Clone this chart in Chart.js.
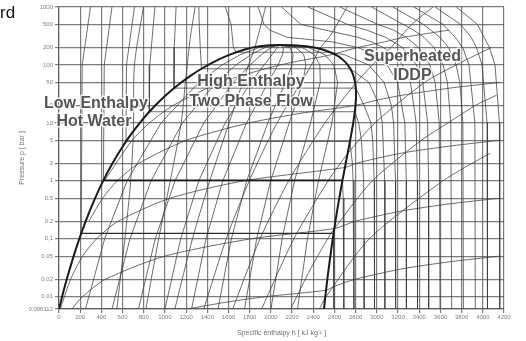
<!DOCTYPE html>
<html>
<head>
<meta charset="utf-8">
<script src="https://cdn.jsdelivr.net/npm/chart.js@4.4.1/dist/chart.umd.min.js"></script>
<style>
  html, body { margin: 0; padding: 0; background: #fff; }
  #wrap { position: relative; width: 526px; height: 341px; }
</style>
</head>
<body>
<div id="wrap"><canvas id="phChart" width="526" height="341"></canvas></div>
<script>
// p-h diagram of water: enthalpy h in kJ/kg, pressure p in bar

var pressureTicks = [0.006112, 0.01, 0.02, 0.05, 0.1, 0.2, 0.5, 1, 2, 5, 10, 20, 50, 100, 200, 500, 1000];
var pressureLabels = ['0.006112', '0.01', '0.02', '0.05', '0,1', '0.2', '0.5', '1', '2', '5', '10', '20', '50', '100', '200', '500', '1000'];
var enthalpyTicks = [0, 200, 400, 600, 800, 1000, 1200, 1400, 1600, 1800, 2000, 2200, 2400, 2600, 2800, 3000, 3200, 3400, 3600, 3800, 4000, 4200];

// saturation line
var satPressure = [0.006112, 0.01228, 0.02339, 0.07384, 0.1995, 0.4739, 1.0142, 1.9867, 3.6154, 6.1823, 10.028, 15.549, 23.196, 33.469, 46.923, 64.166, 85.879, 112.84, 145.94, 186.51, 210.43, 220.64];
var satLiquidH = [0, 42.0, 83.9, 167.5, 251.2, 335.0, 419.2, 503.8, 589.2, 675.7, 763.2, 852.3, 943.6, 1037.6, 1135.0, 1236.9, 1345.0, 1462.2, 1594.5, 1761.5, 1892.6, 2084.3];
var satVaporH = [2500.9, 2519.2, 2537.4, 2573.5, 2608.8, 2643.0, 2675.6, 2705.9, 2733.4, 2757.4, 2777.2, 2792.0, 2801.0, 2803.0, 2796.6, 2779.9, 2749.6, 2700.6, 2622.3, 2481.5, 2333.5, 2084.3];

// lines of constant vapour quality
var qualityPressure = [0.006112, 0.1, 1, 10, 50, 100, 150, 200, 220.64];
var quality10 = [250, 431, 643, 964, 1319, 1540, 1710, 1885, 2084];
var quality20 = [500, 670, 869, 1165, 1482, 1671, 1810, 1944, 2084];
var quality30 = [750, 909, 1095, 1367, 1646, 1803, 1910, 2002, 2084];
var quality40 = [1000, 1149, 1320, 1568, 1810, 1935, 2010, 2061, 2084];
var quality50 = [1251, 1388, 1546, 1770, 1974, 2067, 2110, 2119, 2084];
var quality60 = [1501, 1627, 1772, 1971, 2138, 2198, 2210, 2177, 2084];
var quality70 = [1751, 1866, 1998, 2173, 2302, 2330, 2310, 2236, 2084];
var quality80 = [2001, 2106, 2223, 2374, 2466, 2462, 2410, 2294, 2084];
var quality90 = [2251, 2345, 2449, 2576, 2630, 2593, 2510, 2353, 2084];

// isotherms [h, p]
var isotherm50 = [[297, 1000], [219, 100], [209.3, 0.1235], [2591.3, 0.1235], [2594, 0.006112]];
var isotherm100 = [[500, 1000], [427, 100], [419.2, 1.0142], [2675.6, 1.0142], [2682, 0.5], [2688, 0.1], [2689, 0.006112]];
var isotherm150 = [[712, 1000], [637, 100], [632.2, 4.76], [2745.9, 4.76], [2769, 2], [2776, 1], [2783, 0.1], [2784, 0.006112]];
var isotherm200 = [[905, 1000], [857, 100], [852.3, 15.55], [2792, 15.55], [2828, 10], [2855, 5], [2875, 1], [2879, 0.1], [2880, 0.006112]];
var isotherm250 = [[1105, 1000], [1088, 200], [1085.8, 39.76], [2800.9, 39.76], [2880, 20], [2943, 10], [2961, 5], [2975, 1], [2978, 0.006112]];
var isotherm300 = [[1320, 1000], [1323, 500], [1333, 200], [1345, 85.88], [2749.6, 85.88], [2925, 50], [3024, 20], [3051, 10], [3074, 1], [3076, 0.006112]];
var isotherm350 = [[1570, 1000], [1624, 500], [1646, 200], [1671.9, 165.3], [2563.6, 165.3], [2692, 150], [2923, 100], [3068, 50], [3137, 20], [3158, 10], [3176, 1], [3177, 0.006112]];
var isotherm400 = [[1880, 1000], [1935, 500], [1988, 400], [2152, 300], [2578, 250], [2819, 200], [2975, 150], [3097, 100], [3196, 50], [3264, 10], [3278, 1], [3279, 0.006112]];
var isotherm450 = [[2100, 1000], [2284, 500], [2512, 400], [2821, 300], [2950, 250], [3061, 200], [3157, 150], [3241, 100], [3317, 50], [3371, 10], [3382, 1], [3384, 0.006112]];
var isotherm500 = [[2350, 1000], [2723, 500], [2903, 400], [3083, 300], [3241, 200], [3374, 100], [3434, 50], [3479, 10], [3488, 1], [3489, 0.006112]];
var isotherm550 = [[2650, 1000], [3010, 500], [3156, 400], [3276, 300], [3394, 200], [3501, 100], [3550, 50], [3589, 10], [3596, 0.006112]];
var isotherm600 = [[2950, 1000], [3248, 500], [3346, 400], [3444, 300], [3539, 200], [3625, 100], [3666, 50], [3698, 10], [3706, 0.006112]];
var isotherm650 = [[3150, 1000], [3440, 500], [3595, 300], [3677, 200], [3748, 100], [3783, 50], [3812, 10], [3817, 0.006112]];
var isotherm700 = [[3350, 1000], [3625, 500], [3740, 300], [3810, 200], [3870, 100], [3925, 10], [3929, 0.006112]];
var isotherm750 = [[3550, 1000], [3790, 500], [3890, 300], [3940, 200], [3993, 100], [4040, 10], [4044, 0.006112]];
var isotherm800 = [[3750, 1000], [3950, 500], [4062, 200], [4115, 100], [4157, 10], [4160, 0.006112]];

// isentropes [h, p]
var isentrope2 = [[546, 0.006112], [622, 0.1], [677, 1], [702, 7.1], [712, 100], [797, 1000]];
var isentrope3 = [[820, 0.006112], [941, 0.1], [1050, 1], [1153, 10], [1196, 57], [1240, 300], [1285, 1000]];
var isentrope4 = [[1093, 0.006112], [1260, 0.1], [1423, 1], [1606, 10], [1789, 100], [1850, 204], [1950, 1000]];
var isentrope5 = [[1366, 0.006112], [1579, 0.1], [1796, 1], [2059, 10], [2383, 100], [2460, 190], [2550, 300], [2720, 1000]];
var isentrope6 = [[1639, 0.006112], [1898, 0.1], [2168, 1], [2511, 10], [2795, 47], [2959, 100], [3133, 200], [3330, 500], [3530, 1000]];
var isentrope7 = [[1912, 0.006112], [2217, 0.1], [2541, 1], [2725, 2.95], [2983, 10], [3452, 50], [3748, 100], [4080, 200]];
var isentrope8 = [[2186, 0.006112], [2374, 0.03], [2536, 0.1], [2599, 0.15], [2958, 1], [3420, 5], [3673, 10], [3930, 20], [4130, 30]];
var isentrope9 = [[2458, 0.006112], [2513, 0.0095], [2930, 0.1], [3625, 1], [4070, 3]];

// isochores [h, p]
var isochore001 = [[429, 1], [690, 5], [855, 10], [1078, 20], [1528, 50], [2088, 100], [2571, 150], [2820, 200], [3072, 250], [3257, 300], [3681, 400]];
var isochore01 = [[282, 0.2], [412, 0.5], [550, 1], [753, 2], [1203, 5], [1798, 10], [2320, 15], [2798, 20], [3012, 25], [3240, 30], [3697, 40], [3940, 45], [4160, 50]];
var isochore1 = [[12, 0.006112], [110, 0.02], [223, 0.05], [355, 0.1], [558, 0.2], [1048, 0.5], [1749, 1], [2700, 1.7], [2804, 2], [3232, 3], [3702, 4], [4160, 5]];
var isochore10 = [[121, 0.006112], [221, 0.01], [440, 0.02], [998, 0.05], [1818, 0.1], [2599, 0.15], [2796, 0.2], [3232, 0.3], [3690, 0.4], [4160, 0.5]];
var isochore100 = [[1213, 0.006112], [1576, 0.008], [1953, 0.01], [2521, 0.0129], [2598, 0.015], [2798, 0.02], [3232, 0.03], [3690, 0.04], [4160, 0.05]];

// region labels: text with its centre enthalpy and baseline pressure
var regionText = ['Low Enthalpy', 'Hot Water', 'High Enthalpy', 'Two Phase Flow', 'Superheated', 'IDDP'];
var regionH = [349, 330, 1812, 1812, 3336, 3336];
var regionP = [18.0, 8.65, 43.3, 19.5, 117, 55];

function pairs(list) {
    return list.map(function(d) { return { x: d[0], y: d[1] }; });
}
function zip(hs, ps) {
    return hs.map(function(h, i) { return { x: h, y: ps[i] }; });
}
function curve(points, color, width, tension) {
    return {
        data: points,
        showLine: true,
        borderColor: color,
        borderWidth: width,
        pointRadius: 0,
        tension: tension,
        fill: false
    };
}
// horizontal (two-phase) part of an isotherm drawn heavier
function boldFlat(ds, color, width) {
    ds.segment = {
        borderWidth: function(c) { return c.p0.parsed.y === c.p1.parsed.y ? width : undefined; },
        borderColor: function(c) { return c.p0.parsed.y === c.p1.parsed.y ? color : undefined; }
    };
    return ds;
}

var thin = 'rgba(60,60,60,0.75)';
var datasets = [];

// saturation dome on top
var dome = zip(satLiquidH, satPressure).concat(zip(satVaporH.slice().reverse(), satPressure.slice().reverse()).slice(1));
datasets.push(curve(dome, '#1a1a1a', 2, 0.3));
datasets.push(boldFlat(curve(pairs(isotherm100), thin, 1, 0), '#1a1a1a', 1.8));
datasets.push(boldFlat(curve(pairs(isotherm50), thin, 1, 0), '#2a2a2a', 1.4));

[isotherm150, isotherm200, isotherm250, isotherm300, isotherm350, isotherm400, isotherm450, isotherm500,
 isotherm550, isotherm600, isotherm650, isotherm700, isotherm750, isotherm800]
    .forEach(function(t) { datasets.push(curve(pairs(t), thin, 1, 0)); });
[quality10, quality20, quality30, quality40, quality50, quality60, quality70, quality80, quality90]
    .forEach(function(q) { datasets.push(curve(zip(q, qualityPressure), thin, 1, 0)); });
[isentrope2, isentrope3, isentrope4, isentrope5, isentrope6, isentrope7, isentrope8, isentrope9]
    .forEach(function(s) { datasets.push(curve(pairs(s), thin, 1, 0.25)); });
[isochore001, isochore01, isochore1, isochore10, isochore100]
    .forEach(function(v) { datasets.push(curve(pairs(v), thin, 1, 0.25)); });

var overlayPlugin = {
    id: 'overlay',
    afterDraw: function(chart) {
        var ctx = chart.ctx;
        var xs = chart.scales.x, ys = chart.scales.y;
        ctx.save();
        ctx.font = 'bold 16px "Liberation Sans", Arial, sans-serif';
        ctx.textAlign = 'center';
        ctx.textBaseline = 'alphabetic';
        ctx.lineJoin = 'round';
        regionText.forEach(function(t, i) {
            var px = xs.getPixelForValue(regionH[i]);
            var py = ys.getPixelForValue(regionP[i]);
            ctx.strokeStyle = 'rgba(255,255,255,0.85)';
            ctx.lineWidth = 3;
            ctx.strokeText(t, px, py);
            ctx.fillStyle = '#555555';
            ctx.fillText(t, px, py);
        });
        // cut-off word at the top left of the page
        ctx.textAlign = 'left';
        ctx.font = '17px "Liberation Sans", Arial, sans-serif';
        ctx.fillStyle = '#111';
        ctx.fillText('rd', 0, 18);
        ctx.restore();
    }
};

document.addEventListener('DOMContentLoaded', function() {
    var ctx = document.getElementById('phChart').getContext('2d');
    var gridColor = 'rgba(80,80,80,0.75)';

    new Chart(ctx, {
        type: 'scatter',
        data: { datasets: datasets },
        options: {
            responsive: false,
            maintainAspectRatio: false,
            animation: false,
            layout: { padding: { left: 0, right: 22, top: 7, bottom: 0 } },
            plugins: {
                legend: { display: false },
                tooltip: { enabled: false }
            },
            scales: {
                x: {
                    type: 'linear',
                    min: 0,
                    max: 4200,
                    afterBuildTicks: function(scale) {
                        scale.ticks = enthalpyTicks.map(function(v) { return { value: v }; });
                    },
                    afterFit: function(scale) {
                        scale.height = 32;
                        scale.paddingLeft = 0;
                        scale.paddingRight = 0;
                    },
                    ticks: {
                        autoSkip: false,
                        maxRotation: 0,
                        padding: 1,
                        color: '#808080',
                        font: { size: 6 },
                        callback: function(v) { return String(v); }
                    },
                    grid: { color: gridColor, lineWidth: 1.2, tickLength: 4 },
                    border: { color: gridColor, width: 1.2 },
                    title: {
                        display: true,
                        text: 'Specific enthalpy h [ kJ kg\u207B\u00B9 ]',
                        color: '#707070',
                        font: { size: 7 },
                        padding: { top: 0, bottom: 4 }
                    }
                },
                y: {
                    type: 'logarithmic',
                    min: 0.006112,
                    max: 1000,
                    afterBuildTicks: function(scale) {
                        scale.ticks = pressureTicks.map(function(v) { return { value: v }; });
                    },
                    afterFit: function(scale) {
                        scale.width = 59;
                        scale.paddingTop = 0;
                        scale.paddingBottom = 0;
                    },
                    ticks: {
                        autoSkip: false,
                        padding: 2,
                        color: '#808080',
                        font: { size: 6 },
                        callback: function(v) {
                            var i = pressureTicks.indexOf(v);
                            return i >= 0 ? pressureLabels[i] : '';
                        }
                    },
                    grid: { color: gridColor, lineWidth: 1.2, tickLength: 4 },
                    border: { color: gridColor, width: 1.2 },
                    title: {
                        display: true,
                        text: 'Pressure p [ bar ]',
                        color: '#707070',
                        font: { size: 7 },
                        padding: { top: 18, bottom: 0 }
                    }
                }
            }
        },
        plugins: [overlayPlugin]
    });
});
</script>
</body>
</html>
